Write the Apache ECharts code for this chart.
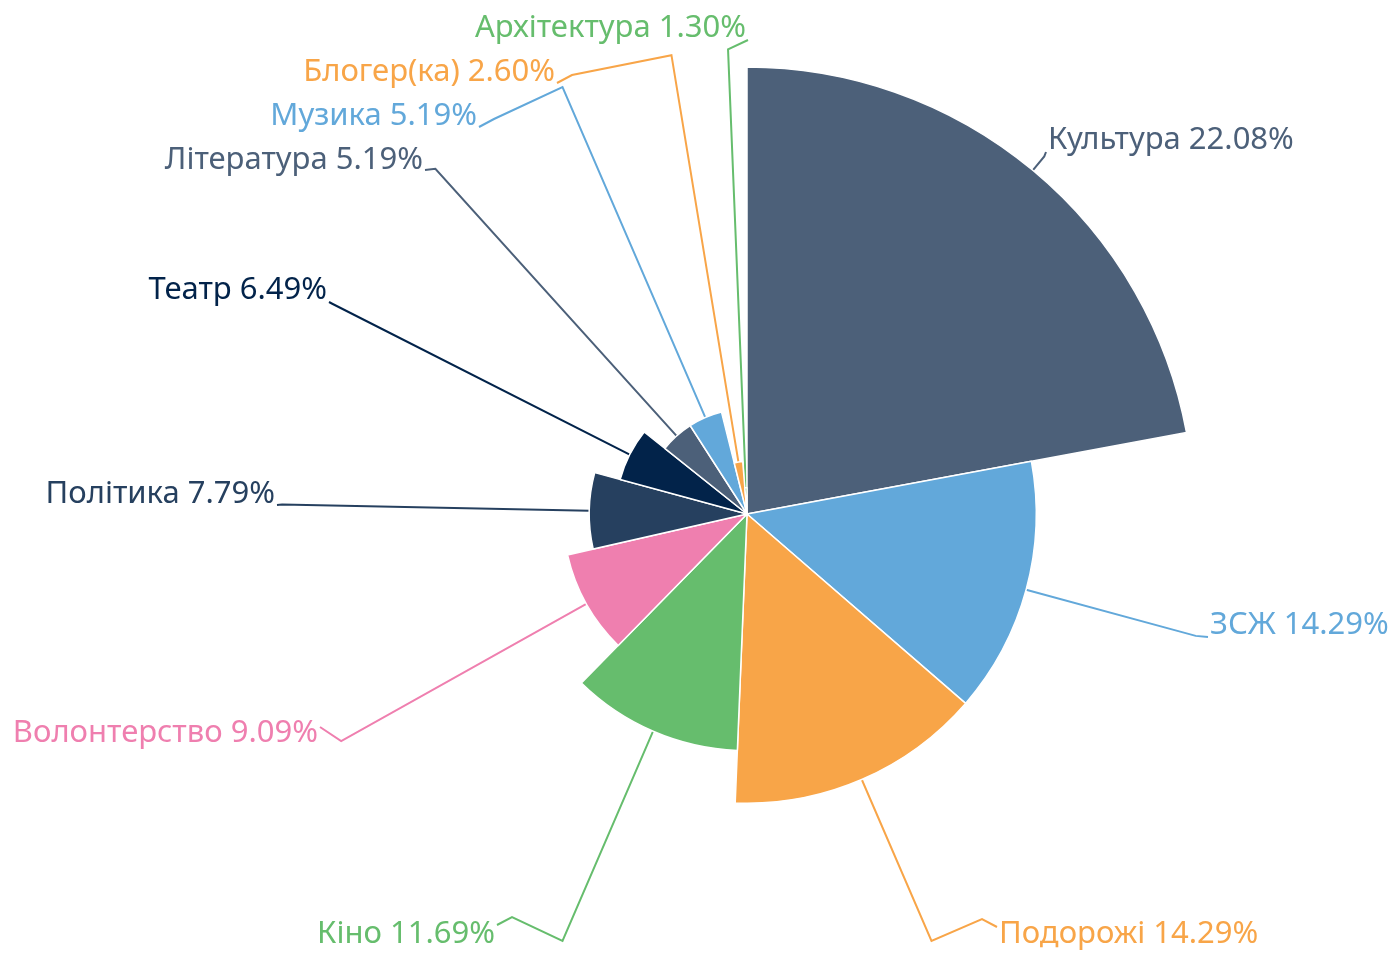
<!DOCTYPE html>
<html>
<head>
<meta charset="utf-8">
<script src="https://cdn.jsdelivr.net/npm/echarts@6/dist/echarts.min.js"></script>
<style>
    html, body { margin: 0; padding: 0; background: #fff; }
    #chart { width: 1397px; height: 954px; }
</style>
</head>
<body>
<div id="chart"></div>
<script type="text/javascript">
    // кількість відповідей по темах (всього 77)
    var categories = ['Культура', 'ЗСЖ', 'Подорожі', 'Кіно', 'Волонтерство', 'Політика', 'Театр', 'Література', 'Музика', 'Блогер(ка)', 'Архітектура'];
    var counts = [17, 11, 11, 9, 7, 6, 5, 4, 4, 2, 1];
    var palette = ['#4c6079', '#62a8da', '#f8a548', '#66bd6d', '#ef7faf', '#26405f', '#02234a'];

    // розміщення підписів: [x краю тексту, y центру, бік (1 праворуч / -1 ліворуч), зсув кінця лінії по y]
    var labelPos = [
        [1048, 140, 1, 12],
        [1210, 625, 1, 12],
        [999, 934, 1, -7],
        [495, 934, -1, -9],
        [318, 733, -1, -6],
        [275, 494, -1, 11],
        [327, 290, -1, 12],
        [423, 160, -1, 10],
        [477, 116, -1, 11],
        [555, 72, -1, 11],
        [746, 28, -1, 12]
    ];

    var pieCenter = [747, 514];
    var pieRadius = 447;
    var lineLen = 18;

    var myChart = echarts.init(document.getElementById('chart'));

    var pieData = categories.map(function(name, i) {
        var c = palette[i % palette.length];
        return {
            name: name,
            value: counts[i],
            itemStyle: { color: c },
            label: { color: c },
            labelLine: { lineStyle: { color: c } }
        };
    });

    option = {
        animation: false,
        series: [
            {
                type: 'pie',
                roseType: 'radius',
                center: pieCenter,
                radius: [0, pieRadius],
                startAngle: 90,
                itemStyle: {
                    borderColor: '#fff',
                    borderWidth: 1.5
                },
                label: {
                    formatter: function(p) {
                        return p.name + ' ' + p.percent.toFixed(2) + '%';
                    },
                    fontFamily: 'Noto Sans',
                    fontSize: 31
                },
                labelLine: {
                    length: lineLen,
                    length2: 8,
                    lineStyle: { width: 2 }
                },
                labelLayout: function(params) {
                    var pos = labelPos[params.dataIndex];
                    var s = pos[2];
                    var p0 = params.labelLinePoints[0];
                    // злам лінії — на колі трохи за найбільшим сектором
                    var dx = p0[0] - pieCenter[0];
                    var dy = p0[1] - pieCenter[1];
                    var d = Math.sqrt(dx * dx + dy * dy) || 1;
                    var p1 = [pieCenter[0] + dx / d * (pieRadius + lineLen), pieCenter[1] + dy / d * (pieRadius + lineLen)];
                    var end = [pos[0] - s * 2, pos[1] + pos[3]];
                    var line = [p0, p1];
                    if (Math.abs(p1[0] - end[0]) > 25) {
                        line.push([end[0] - s * 15, end[1] - 8]);
                    }
                    line.push(end);
                    return {
                        x: pos[0],
                        y: pos[1],
                        align: s > 0 ? 'left' : 'right',
                        verticalAlign: 'middle',
                        labelLinePoints: line
                    };
                },
                data: pieData
            }
        ]
    };
    myChart.setOption(option);
</script>
</body>
</html>
